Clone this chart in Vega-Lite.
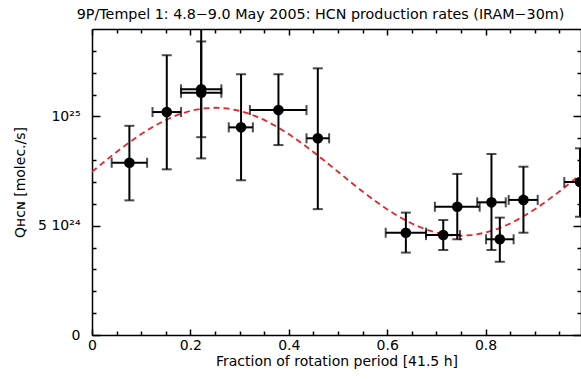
{
  "$schema": "https://vega.github.io/schema/vega-lite/v6.json",
  "width": 489,
  "height": 306,
  "padding": {"left": 13, "top": 7, "right": 0, "bottom": 5},
  "title": {
    "text": "9P/Tempel 1: 4.8−9.0 May 2005: HCN production rates (IRAM−30m)",
    "font": "DejaVu Sans",
    "fontSize": 14.3,
    "fontWeight": "normal",
    "color": "black",
    "anchor": "middle",
    "dx": -16,
    "offset": 6
  },
  "datasets": {
    "obs": [
      {"x": 0.076, "y": 7.88e24, "xlo": 0.040, "xhi": 0.112, "ylo": 6.16e24, "yhi": 9.57e24},
      {"x": 0.152, "y": 10.2e24, "xlo": 0.123, "xhi": 0.181, "ylo": 7.58e24, "yhi": 12.8e24},
      {"x": 0.222, "y": 11.24e24, "xlo": 0.181, "xhi": 0.263, "ylo": 9.05e24, "yhi": 13.43e24},
      {"x": 0.222, "y": 11.08e24, "xlo": 0.181, "xhi": 0.263, "ylo": 8.08e24, "yhi": 14.1e24},
      {"x": 0.303, "y": 9.50e24, "xlo": 0.278, "xhi": 0.327, "ylo": 7.08e24, "yhi": 11.93e24},
      {"x": 0.379, "y": 10.29e24, "xlo": 0.321, "xhi": 0.436, "ylo": 8.69e24, "yhi": 11.93e24},
      {"x": 0.459, "y": 9.0e24, "xlo": 0.436, "xhi": 0.482, "ylo": 5.76e24, "yhi": 12.2e24},
      {"x": 0.638, "y": 4.68e24, "xlo": 0.597, "xhi": 0.679, "ylo": 3.77e24, "yhi": 5.6e24},
      {"x": 0.714, "y": 4.57e24, "xlo": 0.679, "xhi": 0.748, "ylo": 3.89e24, "yhi": 5.26e24},
      {"x": 0.7425, "y": 5.87e24, "xlo": 0.697, "xhi": 0.788, "ylo": 4.38e24, "yhi": 7.37e24},
      {"x": 0.812, "y": 6.07e24, "xlo": 0.783, "xhi": 0.841, "ylo": 3.89e24, "yhi": 8.28e24},
      {"x": 0.829, "y": 4.38e24, "xlo": 0.801, "xhi": 0.857, "ylo": 3.35e24, "yhi": 5.37e24},
      {"x": 0.877, "y": 6.18e24, "xlo": 0.847, "xhi": 0.906, "ylo": 4.68e24, "yhi": 7.70e24},
      {"x": 0.992, "y": 7.0e24, "xlo": 0.960, "xhi": 1.024, "ylo": 5.41e24, "yhi": 8.54e24}
    ],
    "fit": [
      {"x": 0.0, "y": 7.470e24}, {"x": 0.025, "y": 7.928e24}, {"x": 0.05, "y": 8.375e24},
      {"x": 0.075, "y": 8.800e24}, {"x": 0.1, "y": 9.192e24}, {"x": 0.125, "y": 9.542e24},
      {"x": 0.15, "y": 9.840e24}, {"x": 0.175, "y": 10.081e24}, {"x": 0.2, "y": 10.257e24},
      {"x": 0.225, "y": 10.364e24}, {"x": 0.25, "y": 10.400e24}, {"x": 0.275, "y": 10.364e24},
      {"x": 0.3, "y": 10.257e24}, {"x": 0.325, "y": 10.081e24}, {"x": 0.35, "y": 9.840e24},
      {"x": 0.375, "y": 9.542e24}, {"x": 0.4, "y": 9.192e24}, {"x": 0.425, "y": 8.800e24},
      {"x": 0.45, "y": 8.375e24}, {"x": 0.475, "y": 7.928e24}, {"x": 0.5, "y": 7.470e24},
      {"x": 0.525, "y": 7.012e24}, {"x": 0.55, "y": 6.565e24}, {"x": 0.575, "y": 6.140e24},
      {"x": 0.6, "y": 5.748e24}, {"x": 0.625, "y": 5.398e24}, {"x": 0.65, "y": 5.100e24},
      {"x": 0.675, "y": 4.859e24}, {"x": 0.7, "y": 4.683e24}, {"x": 0.725, "y": 4.576e24},
      {"x": 0.75, "y": 4.540e24}, {"x": 0.775, "y": 4.576e24}, {"x": 0.8, "y": 4.683e24},
      {"x": 0.825, "y": 4.859e24}, {"x": 0.85, "y": 5.100e24}, {"x": 0.875, "y": 5.398e24},
      {"x": 0.9, "y": 5.748e24}, {"x": 0.925, "y": 6.140e24}, {"x": 0.95, "y": 6.565e24},
      {"x": 0.975, "y": 7.012e24}, {"x": 1.0, "y": 7.470e24}
    ]
  },
  "resolve": {"axis": {"x": "independent", "y": "independent"}},
  "layer": [
    {
      "data": {"name": "fit"},
      "mark": {"type": "line", "color": "#e8232a", "strokeWidth": 1.8, "strokeDash": [6, 4], "clip": true},
      "encoding": {
        "x": {"field": "x", "type": "quantitative", "scale": {"domain": [0, 0.994], "nice": false, "zero": false},
          "axis": {"orient": "bottom", "values": [0, 0.2, 0.4, 0.6, 0.8], "ticks": false, "labelPadding": 3,
            "labelExpr": "datum.value == 0 ? '0' : format(datum.value, '.1f')", "labelFlush": false,
            "title": "Fraction of rotation period [41.5 h]", "titlePadding": 2}},
        "y": {"field": "y", "type": "quantitative", "scale": {"domain": [0, 1.4e25], "nice": false, "zero": false},
          "axis": {"orient": "left", "values": [0, 5e24, 1e25], "ticks": false, "labelPadding": 12,
            "labelExpr": "datum.value == 0 ? '0' : (datum.value < 6e24 ? '5 10\u00b2\u2074' : '10\u00b2\u2075')",
            "title": "Q\u029c\u1d04\u0274 [molec./s]", "titlePadding": 10}}
      }
    },
    {
      "data": {"name": "obs"},
      "mark": {"type": "rule", "color": "black", "strokeWidth": 2, "clip": true},
      "encoding": {
        "x": {"field": "x", "type": "quantitative",
          "axis": {"orient": "bottom", "values": [0, 0.2, 0.4, 0.6, 0.8], "offset": -6, "tickSize": 6,
            "labels": false, "domain": false, "title": null}},
        "y": {"field": "ylo", "type": "quantitative",
          "axis": {"orient": "left", "values": [0, 5e24, 1e25], "offset": -8, "tickSize": 8,
            "labels": false, "domain": false, "title": null}},
        "y2": {"field": "yhi"}
      }
    },
    {
      "data": {"name": "obs"},
      "mark": {"type": "rule", "color": "black", "strokeWidth": 2, "clip": true},
      "encoding": {
        "x": {"field": "xlo", "type": "quantitative",
          "axis": {"orient": "bottom", "values": [0.05, 0.1, 0.15, 0.25, 0.3, 0.35, 0.45, 0.5, 0.55, 0.65, 0.7, 0.75, 0.85, 0.9, 0.95],
            "offset": -4, "tickSize": 4, "labels": false, "domain": false, "title": null}},
        "x2": {"field": "xhi"},
        "y": {"field": "y", "type": "quantitative",
          "axis": {"orient": "left", "values": [1e24, 2e24, 3e24, 4e24, 6e24, 7e24, 8e24, 9e24, 1.1e25, 1.2e25, 1.3e25],
            "offset": -4, "tickSize": 4, "labels": false, "domain": false, "title": null}}
      }
    },
    {
      "data": {"name": "obs"},
      "mark": {"type": "tick", "orient": "horizontal", "color": "black", "thickness": 2, "size": 10, "clip": true},
      "encoding": {
        "x": {"field": "x", "type": "quantitative",
          "axis": {"orient": "top", "values": [0], "ticks": false, "labels": false, "title": null}},
        "y": {"field": "ylo", "type": "quantitative",
          "axis": {"orient": "right", "values": [0], "ticks": false, "labels": false, "title": null}}
      }
    },
    {
      "data": {"name": "obs"},
      "mark": {"type": "tick", "orient": "horizontal", "color": "black", "thickness": 2, "size": 10, "clip": true},
      "encoding": {
        "x": {"field": "x", "type": "quantitative",
          "axis": {"orient": "top", "values": [0, 0.2, 0.4, 0.6, 0.8], "offset": -6, "tickSize": 6,
            "labels": false, "domain": false, "title": null}},
        "y": {"field": "yhi", "type": "quantitative",
          "axis": {"orient": "right", "values": [0, 5e24, 1e25], "offset": -8, "tickSize": 8,
            "labels": false, "domain": false, "title": null}}
      }
    },
    {
      "data": {"name": "obs"},
      "mark": {"type": "tick", "orient": "vertical", "color": "black", "thickness": 2, "size": 10, "clip": true},
      "encoding": {
        "x": {"field": "xlo", "type": "quantitative",
          "axis": {"orient": "top", "values": [0.05, 0.1, 0.15, 0.25, 0.3, 0.35, 0.45, 0.5, 0.55, 0.65, 0.7, 0.75, 0.85, 0.9, 0.95],
            "offset": -4, "tickSize": 4, "labels": false, "domain": false, "title": null}},
        "y": {"field": "y", "type": "quantitative",
          "axis": {"orient": "right", "values": [1e24, 2e24, 3e24, 4e24, 6e24, 7e24, 8e24, 9e24, 1.1e25, 1.2e25, 1.3e25],
            "offset": -4, "tickSize": 4, "labels": false, "domain": false, "title": null}}
      }
    },
    {
      "data": {"name": "obs"},
      "mark": {"type": "tick", "orient": "vertical", "color": "black", "thickness": 2, "size": 10, "clip": true},
      "encoding": {
        "x": {"field": "xhi", "type": "quantitative", "axis": null},
        "y": {"field": "y", "type": "quantitative", "axis": null}
      }
    },
    {
      "data": {"name": "obs"},
      "mark": {"type": "point", "filled": true, "color": "black", "opacity": 1, "size": 113, "clip": true},
      "encoding": {
        "x": {"field": "x", "type": "quantitative", "axis": null},
        "y": {"field": "y", "type": "quantitative", "axis": null}
      }
    }
  ],
  "config": {
    "view": {"stroke": null},
    "axis": {
      "grid": false,
      "domainColor": "black", "domainWidth": 1.5,
      "tickColor": "black", "tickWidth": 1.5,
      "labelColor": "black", "titleColor": "black",
      "labelFont": "DejaVu Sans", "titleFont": "DejaVu Sans",
      "labelFontSize": 14, "titleFontSize": 14, "titleFontWeight": "normal"
    }
  }
}
